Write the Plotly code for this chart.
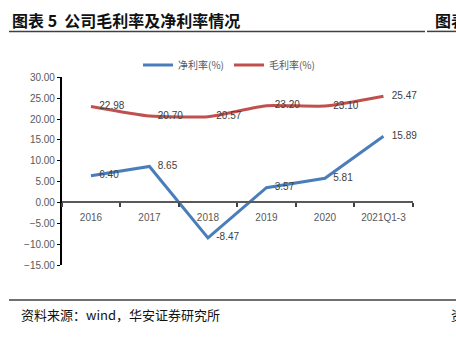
import plotly.graph_objects as go

categories = ["2016", "2017", "2018", "2019", "2020", "2021Q1-3"]
net_margin = [6.40, 8.65, -8.47, 3.57, 5.81, 15.89]
gross_margin = [22.98, 20.70, 20.57, 23.20, 23.10, 25.47]
y_ticks = [-15, -10, -5, 0, 5, 10, 15, 20, 25, 30]

W, H = 456, 338
FONT = "Liberation Sans, Arial, Noto Sans CJK SC"
CJK = "Noto Sans CJK SC, Liberation Sans"
BLUE = "#4A7EBB"
RED = "#C0504D"
PAD = "\u00a0\u00a0\u00a0"

def px_x(x):
    return x / W

def px_y(y):
    return 1 - y / H

fig = go.Figure()
fig.add_trace(go.Scatter(
    x=categories, y=net_margin, name="净利率(%)", mode="lines+text",
    line=dict(color=BLUE, width=3),
    text=[PAD + f"{v:.2f}" for v in net_margin], textposition="middle right",
    textfont=dict(family=FONT, size=10, color="#404040"),
    cliponaxis=False,
))
fig.add_trace(go.Scatter(
    x=categories, y=gross_margin, name="毛利率(%)", mode="lines+text",
    line=dict(color=RED, width=3, shape="spline", smoothing=0.5),
    text=[PAD + f"{v:.2f}" for v in gross_margin], textposition="middle right",
    textfont=dict(family=FONT, size=10, color="#404040"),
    cliponaxis=False,
))

y0_frac = px_y(203.7)
fig.update_layout(
    width=W, height=H,
    margin=dict(l=0, r=0, t=0, b=0),
    paper_bgcolor="white", plot_bgcolor="white",
    font=dict(family=FONT, size=10, color="#595959"),
    showlegend=True,
    legend=dict(orientation="h", x=px_x(229), xanchor="center", y=px_y(62), yanchor="middle",
                font=dict(family=CJK, size=10, color="#595959"), bgcolor="rgba(0,0,0,0)",
                itemwidth=30, tracegroupgap=0),
    xaxis=dict(
        domain=[px_x(61.7), px_x(412.7)],
        type="category", anchor="free", position=y0_frac,
        range=[-0.5, len(categories) - 0.5], autorange=False,
        showline=True, linecolor="#595959", linewidth=1.8,
        ticks="outside", tickson="boundaries", ticklen=4, tickcolor="#404040", tickwidth=1.5,
        ticklabelstandoff=6,
        showgrid=False, zeroline=False,
        tickfont=dict(family=FONT, size=10, color="#595959"),
    ),
    yaxis=dict(
        domain=[px_y(269), px_y(74.7)],
        range=[-15, 30], tickvals=y_ticks, tickformat=".2f",
        showline=True, linecolor="#000000", linewidth=1.5,
        ticks="outside", ticklen=3, tickcolor="#000000", tickwidth=1,
        showgrid=False, zeroline=False,
        tickfont=dict(family=FONT, size=10, color="#595959"),
    ),
)

# Title and page decorations
fig.add_annotation(x=px_x(10), y=px_y(15), xref="paper", yref="paper", xanchor="left", yanchor="middle",
                   text="<b>图表 5  公司毛利率及净利率情况</b>", showarrow=False,
                   font=dict(family=CJK, size=16, color="#111111"))
fig.add_annotation(x=px_x(433), y=px_y(15), xref="paper", yref="paper", xanchor="left", yanchor="middle",
                   text="<b>图表</b>", showarrow=False,
                   font=dict(family=CJK, size=16, color="#111111"))
fig.add_shape(type="line", xref="paper", yref="paper", x0=px_x(9), x1=px_x(425), y0=px_y(27.3), y1=px_y(27.3),
              line=dict(color="#404040", width=1.5))
fig.add_shape(type="line", xref="paper", yref="paper", x0=px_x(427), x1=1, y0=px_y(27.3), y1=px_y(27.3),
              line=dict(color="#404040", width=1.5))
fig.add_shape(type="line", xref="paper", yref="paper", x0=px_x(9), x1=1, y0=px_y(305), y1=px_y(305),
              line=dict(color="#404040", width=1.5))
fig.add_annotation(x=px_x(19), y=px_y(320), xref="paper", yref="paper", xanchor="left", yanchor="middle",
                   text="资料来源：wind，华安证券研究所", showarrow=False,
                   font=dict(family=CJK, size=13, color="#111111"))
fig.add_annotation(x=px_x(449), y=px_y(320), xref="paper", yref="paper", xanchor="left", yanchor="middle",
                   text="资", showarrow=False,
                   font=dict(family=CJK, size=13, color="#111111"))

fig.write_html("out.html")
